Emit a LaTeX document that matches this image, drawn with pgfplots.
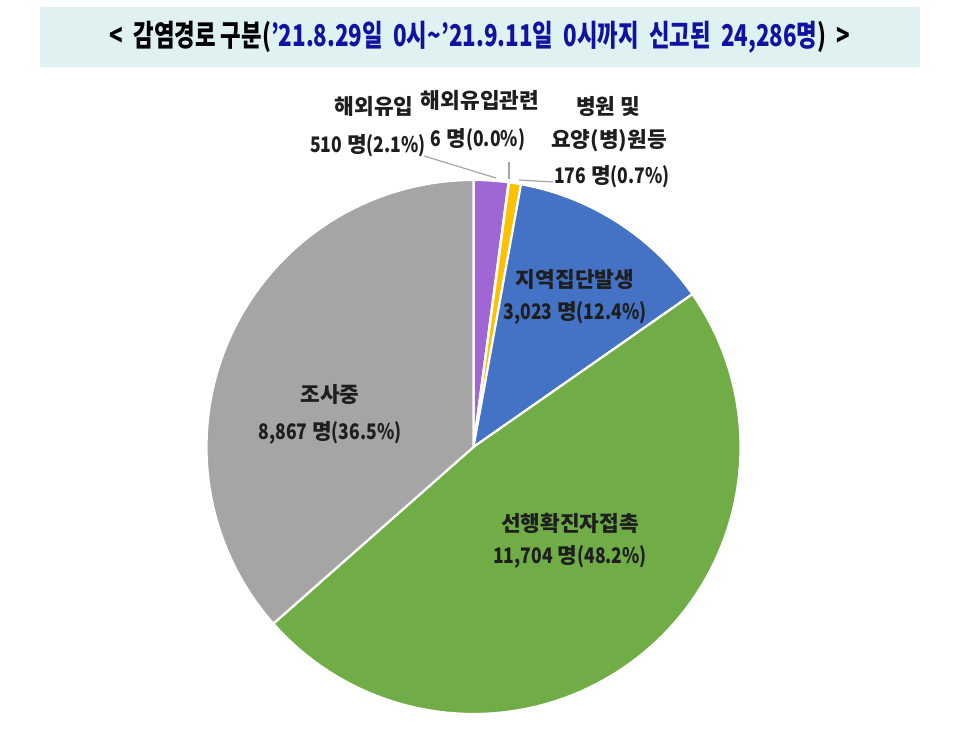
\documentclass[border=0pt]{standalone}
\usepackage{graphicx}
\usepackage{pgfplots}
\pgfplotsset{compat=1.18}
\usepackage{pgfplotstable}
\usepackage{fontspec}
\setmainfont{Noto Sans CJK KR}
\newfontfamily\lat{Noto Sans CJK KR}[FakeStretch=0.82]
\definecolor{slicepurple}{RGB}{160,102,211}
\definecolor{sliceorange}{RGB}{237,125,49}
\definecolor{slicegold}{RGB}{255,192,0}
\definecolor{sliceblue}{RGB}{68,114,196}
\definecolor{slicegreen}{RGB}{112,173,71}
\definecolor{slicegrey}{RGB}{165,165,165}
\definecolor{titlebg}{RGB}{224,241,241}
\definecolor{titleblue}{RGB}{18,18,160}
\definecolor{labeltext}{RGB}{30,30,30}
\definecolor{leader}{RGB}{166,166,166}
\pgfplotstableread{
value color
510 slicepurple
6 sliceorange
176 slicegold
3023 sliceblue
11704 slicegreen
8867 slicegrey
}\piedata
\newcommand\num[2]{{\lat\bfseries #1} 명{\lat\bfseries (#2\%)}}
\begin{document}
\begin{tikzpicture}
\begin{axis}[at={(0,0)}, anchor=south west, scale only axis,
  width=478.5pt, height=366.5pt, xmin=0, xmax=957, ymin=0, ymax=733,
  hide axis, clip=false]
\path (axis cs:0,0) rectangle (axis cs:957,733);
\fill[titlebg] (axis cs:40,666) rectangle (axis cs:920,726);
% total = 24286; use total/100 to stay within TeX's number range
\def\totalh{242.86}
\def\cum{90}
\pgfplotsforeachungrouped \i in {0,...,5}{%
  \pgfplotstablegetelem{\i}{value}\of\piedata \let\v\pgfplotsretval
  \pgfplotstablegetelem{\i}{color}\of\piedata \let\c\pgfplotsretval
  \pgfmathsetmacro\endang{\cum - \v/\totalh*3.6}%
  \edef\temp{\noexpand\addplot[fill=\c, draw=white, line width=1.1pt, line join=round, domain=\endang:\cum, samples=90] ({473.5+267*cos(x)},{286+267*sin(x)}) -- (axis cs:473.5,286) -- cycle;}%
  \temp
  \global\let\cum\endang
}
% leader lines
\draw[leader, line width=0.6pt] (axis cs:424,577) -- (axis cs:496,555);
\draw[leader, line width=0.6pt] (axis cs:509,571) -- (axis cs:509,554);
\draw[leader, line width=0.6pt] (axis cs:519,553) -- (axis cs:553,551);
% title
\node[font=\bfseries\fontsize{15}{17}\selectfont, inner sep=0pt] at (axis cs:480,696)
  {\scalebox{0.745}[1]{\textless\ \ 감염경로 구분(\textcolor{titleblue}{’21.8.29일\ \ 0시\textasciitilde’21.9.11일\ \ 0시까지\ \ 신고된\ \ 24,286명})\ \ \textgreater}};
% labels
\tikzset{lab/.style={font=\bfseries\fontsize{10.7}{12}\selectfont, text=labeltext, inner sep=0pt}}
\node[lab] at (axis cs:374,626) {해외유입};
\node[lab] at (axis cs:368,587) {\num{510}{2.1}};
\node[lab] at (axis cs:480,632) {해외유입관련};
\node[lab] at (axis cs:478,593) {\num{6}{0.0}};
\node[lab] at (axis cs:608,626) {병원 및};
\node[lab] at (axis cs:609,592) {요양(병)원등};
\node[lab] at (axis cs:612,556) {\num{176}{0.7}};
\node[lab] at (axis cs:575,453) {지역집단발생};
\node[lab] at (axis cs:575,420) {\num{3,023}{12.4}};
\node[lab] at (axis cs:570,210) {선행확진자접촉};
\node[lab] at (axis cs:570,176) {\num{11,704}{48.2}};
\node[lab] at (axis cs:330,338) {조사중};
\node[lab] at (axis cs:330,300) {\num{8,867}{36.5}};
\end{axis}
\end{tikzpicture}
\end{document}
